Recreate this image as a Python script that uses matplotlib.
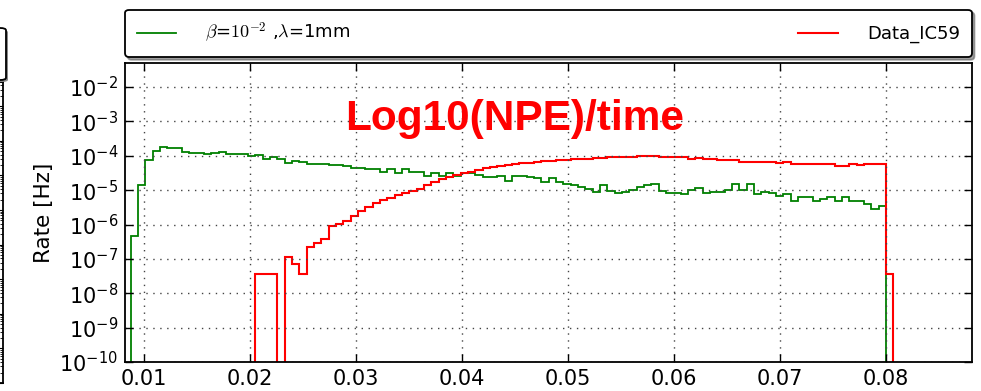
import numpy as np
import matplotlib
matplotlib.use("Agg")
import matplotlib.pyplot as plt
from matplotlib.patches import FancyBboxPatch

plt.rcParams["mathtext.fontset"] = "cm"

# histogram binning (last green edge sits at 0.08)
bin_width = 0.000692
bin_edges = 0.08 + bin_width * np.arange(-103, 2)   # 104 bins

# log10(rate [Hz]) per bin
green_log10 = [
    -6.34, -4.85, -4.12, -3.86, -3.74, -3.76, -3.76, -3.88, -3.91, -3.91,
    -3.96, -3.93, -3.90, -3.94, -3.96, -3.96, -4.00, -3.98, -4.08, -4.05,
    -4.08, -4.22, -4.14, -4.19, -4.24, -4.24, -4.24, -4.27, -4.27, -4.31,
    -4.35, -4.35, -4.38, -4.39, -4.46, -4.39, -4.51, -4.39, -4.46, -4.46,
    -4.58, -4.51, -4.58, -4.51, -4.58, -4.51, -4.51, -4.56, -4.63, -4.63,
    -4.58, -4.73, -4.58, -4.60, -4.62, -4.66, -4.77, -4.66, -4.77, -4.83,
    -4.85, -4.92, -4.96, -5.04, -4.85, -5.02, -5.07, -5.04, -4.99, -4.90,
    -4.85, -4.82, -5.02, -5.07, -5.07, -5.12, -4.99, -4.94, -5.07, -5.04,
    -5.04, -4.99, -4.83, -4.99, -4.83, -5.12, -5.04, -5.09, -5.16, -5.12,
    -5.33, -5.20, -5.20, -5.33, -5.26, -5.20, -5.33, -5.20, -5.33, -5.33,
    -5.40, -5.54, -5.47, None,
]
red_log10 = [None] * 17 + [
    -7.43, -7.43, -7.43, None, -6.96, -7.14, -7.43, -6.66, -6.53, -6.41,
    -6.03, -5.99, -5.89, -5.76, -5.62, -5.50, -5.38, -5.30, -5.23, -5.14,
    -5.07, -5.02, -4.96, -4.85, -4.75, -4.68, -4.61, -4.56, -4.51, -4.46,
    -4.41, -4.37, -4.34, -4.30, -4.27, -4.25, -4.22, -4.20, -4.17, -4.15,
    -4.14, -4.13, -4.12, -4.10, -4.08, -4.08, -4.06, -4.06, -4.05, -4.04,
    -4.03, -4.04, -4.00, -4.00, -4.00, -4.04, -4.05, -4.05, -4.05, -4.10,
    -4.07, -4.10, -4.10, -4.13, -4.13, -4.13, -4.18, -4.18, -4.18, -4.19,
    -4.19, -4.21, -4.19, -4.25, -4.25, -4.25, -4.25, -4.25, -4.25, -4.29,
    -4.29, -4.25, -4.28, -4.25, -4.24, -4.24, -7.45,
]

green_label = r"$\beta$=$10^{-2}$ ,$\lambda$=1mm"
red_label = "Data_IC59"
xticks = [0.01, 0.02, 0.03, 0.04, 0.05, 0.06, 0.07, 0.08]


def to_rate(vals):
    return np.array([1e-14 if v is None else 10.0 ** v for v in vals])


fig = plt.figure(figsize=(9.81, 3.91), dpi=100)
ax = fig.add_axes([0.1274, 0.0742, 0.8631, 0.7647])

ax.stairs(to_rate(green_log10), bin_edges, baseline=1e-14,
          color="#008000", lw=1.3, label=green_label)
ax.stairs(to_rate(red_log10), bin_edges, baseline=1e-14,
          color="#ff0000", lw=1.5, label=red_label)

ax.set_yscale("log")
ax.set_ylim(1e-10, 5e-2)
ax.set_xlim(0.0082, 0.0881)
ax.set_xticks(xticks)
ax.set_xticklabels(["%.2f" % t for t in xticks])
ax.set_yticks([10.0 ** e for e in range(-10, -1)])
ax.tick_params(which="both", direction="in", top=True, right=True, labelsize=15)
ax.tick_params(which="major", length=6, width=1, pad=5)
ax.tick_params(which="minor", length=3, width=0.8)
ax.grid(True, which="major", linestyle=(0, (1, 4)), color="#444444", lw=1)
for s in ax.spines.values():
    s.set_linewidth(1.3)
ax.set_ylabel("Rate [Hz]", fontsize=15.5, labelpad=4)

ax.text(0.26, 0.776, "Log10(NPE)/time", transform=ax.transAxes,
        color="#ff0000", fontsize=30.5, fontweight="bold",
        family="Liberation Sans", ha="left", va="baseline")

leg = ax.legend(loc="lower left", bbox_to_anchor=(0, 1.02, 1, 0.157),
                mode="expand", ncol=2, borderaxespad=0, fontsize=13,
                fancybox=True, shadow=True, borderpad=0.65,
                handlelength=2.2, handletextpad=1.6, framealpha=1)
leg.get_frame().set_edgecolor("black")
leg.get_frame().set_linewidth(1.3)

# fragment of the neighbouring panel at the left edge
ax2 = fig.add_axes([-0.5, 0.0205, 0.5 + 3 / 981, 0.7698])
ax2.set_yscale("log")
ax2.set_ylim(1e-10, 5e-2)
ax2.set_xticks([])
ax2.tick_params(which="both", direction="in", right=True, left=False,
                labelleft=False, labelright=False)
for s in ax2.spines.values():
    s.set_linewidth(1.3)
box = FancyBboxPatch((-0.05, 1 - 80 / 391), 0.05 + 6 / 981, 52 / 391,
                     boxstyle="round,pad=0,rounding_size=0.006",
                     transform=fig.transFigure, facecolor="white",
                     edgecolor="black", lw=1.3)
shadow = FancyBboxPatch((-0.05 + 2 / 981, 1 - 82 / 391), 0.05 + 6 / 981, 52 / 391,
                        boxstyle="round,pad=0,rounding_size=0.006",
                        transform=fig.transFigure, facecolor="#888888",
                        edgecolor="none")
fig.patches.extend([shadow, box])

fig.savefig("out.png", dpi=100)
